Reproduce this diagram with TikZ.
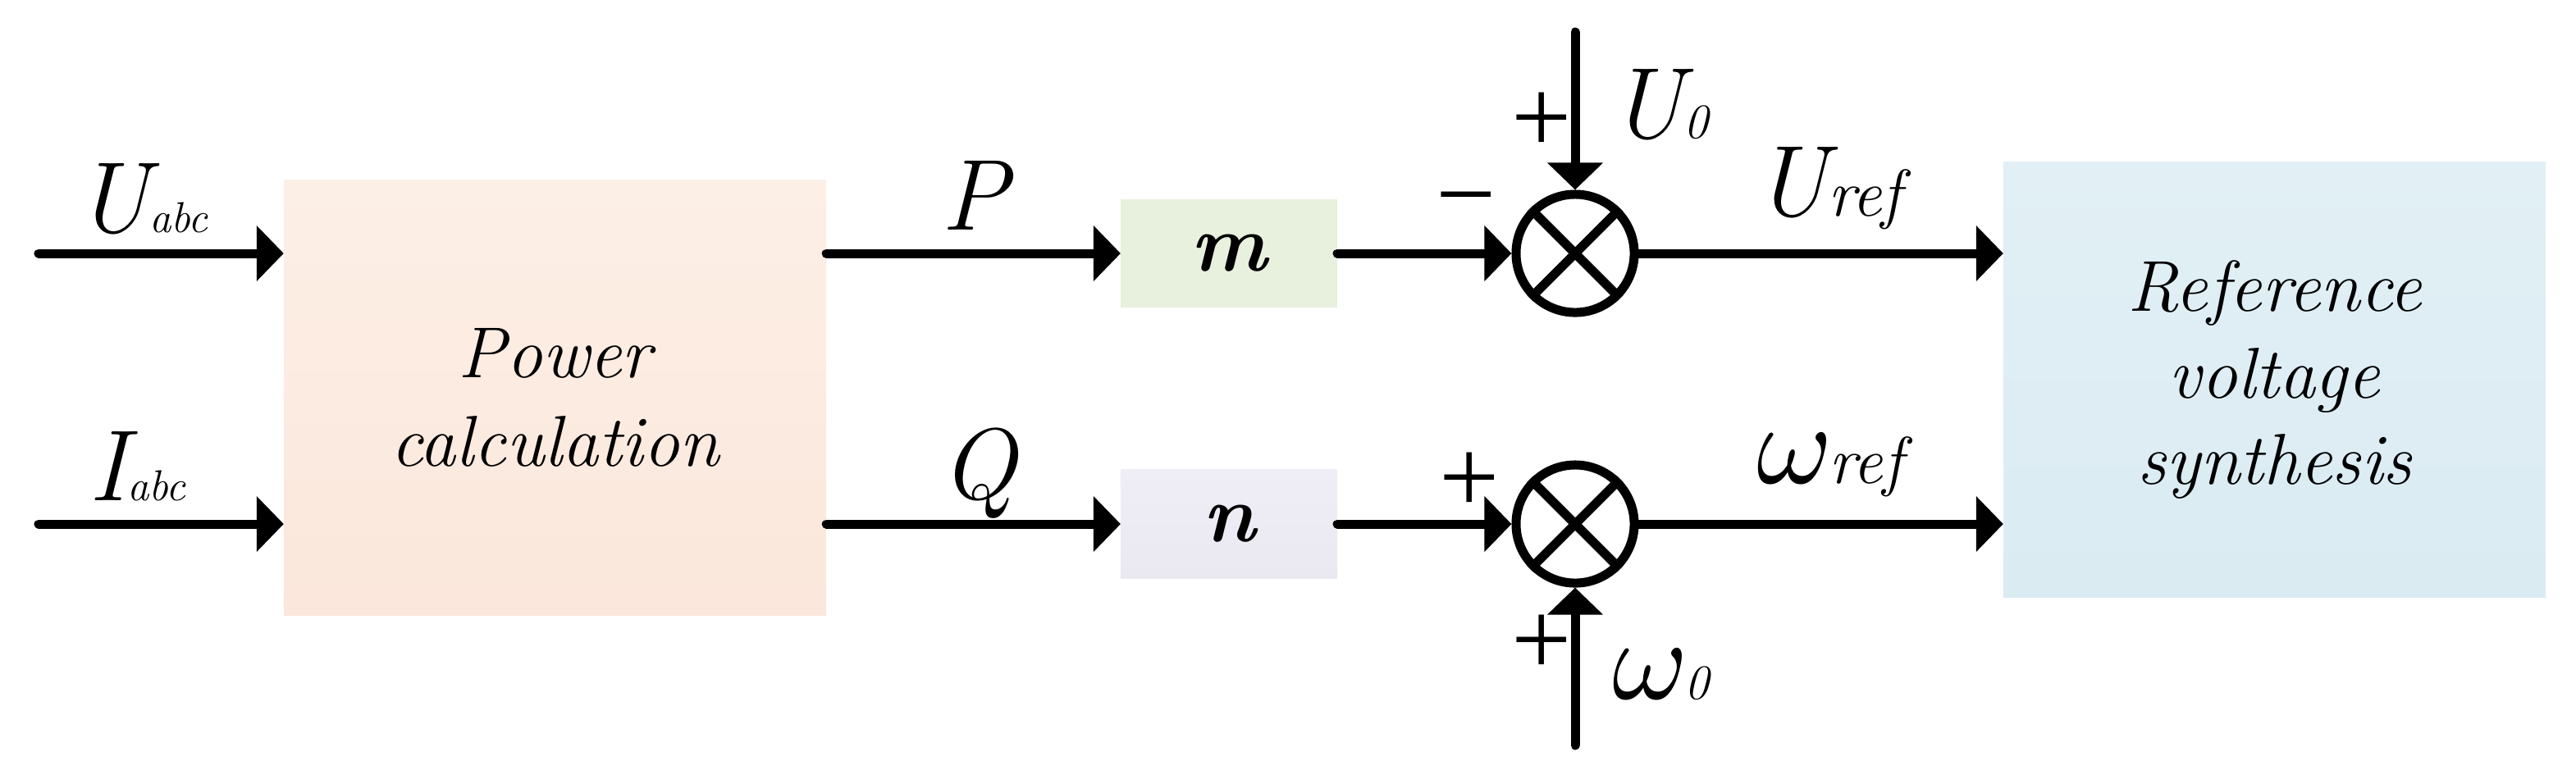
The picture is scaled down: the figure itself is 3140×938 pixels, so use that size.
\documentclass[tikz,border=0pt]{standalone}
\usepackage{fontspec}
\newfontfamily\grkfont{Liberation Serif}
\newfontfamily\lmmath{Latin Modern Math}
\usetikzlibrary{arrows.meta}
\definecolor{pcTop}{HTML}{FCEFE6}
\definecolor{pcBot}{HTML}{FBE7DB}
\definecolor{rbTop}{HTML}{E2F0F5}
\definecolor{rbBot}{HTML}{DAEBF2}
\definecolor{mFill}{HTML}{E8F0DE}
\definecolor{nTop}{HTML}{EFEDF5}
\definecolor{nBot}{HTML}{EAE8F0}
\tikzset{
  arr/.style={line width=0.11cm, line cap=round, -{Triangle[length=0.33cm,width=0.66cm]}},
  blk/.style={inner sep=0, outer sep=0, draw=none, align=center},
  sumnode/.style={circle, draw, line width=0.11cm, minimum size=1.44cm, inner sep=0},
  crossline/.style={line width=0.11cm},
  boxtext/.style={font=\fontsize{25}{30}\selectfont\itshape},
  gaintext/.style={font=\fontsize{28}{30}\selectfont\bfseries\itshape},
  sign/.style={inner sep=0, font=\grkfont\fontsize{37}{40}\selectfont},
  lab/.style={inner sep=0, anchor=base west},
  labc/.style={inner sep=0, anchor=base},
}
\newcommand{\mylab}[3]{{\fontsize{35}{40}\selectfont\itshape #1}{\fontsize{#3}{#3}\selectfont\itshape #2}}
\newcommand{\omg}{{\lmmath\fontsize{40}{40}\selectfont 𝜔}}
\begin{document}
\begin{tikzpicture}[x=0.01cm, y=-0.01cm]
\useasboundingbox (0,0) rectangle (3140,938);
% blocks
\node[blk, boxtext, top color=pcTop, bottom color=pcBot, minimum width=6.61cm, minimum height=5.30cm] (pc) at (676.5,485) {Power\\[0.5pt]calculation};
\node[blk, gaintext, fill=mFill, minimum width=2.64cm, minimum height=1.31cm] (m) at (1498,309) {m};
\node[blk, gaintext, top color=nTop, bottom color=nBot, minimum width=2.64cm, minimum height=1.33cm] (n) at (1498,639) {n};
\node[blk, boxtext, top color=rbTop, bottom color=rbBot, minimum width=6.61cm, minimum height=5.30cm] (rb) at (2772.5,463) {Reference\\voltage\\synthesis};
% summing junctions
\node[sumnode] (s1) at (1920,309) {};
\node[sumnode] (s2) at (1920,639) {};
\draw[crossline] (s1.45) -- (s1.225) (s1.135) -- (s1.315);
\draw[crossline] (s2.45) -- (s2.225) (s2.135) -- (s2.315);
% free ends
\coordinate (uin) at (47,309);
\coordinate (iin) at (47,639);
\coordinate (u0in) at (1920,39);
\coordinate (w0in) at (1920,909);
% connectors
\draw[arr] (uin) -- (uin -| pc.west);
\draw[arr] (iin) -- (iin -| pc.west);
\draw[arr] (pc.east |- m) -- (m.west);
\draw[arr] (pc.east |- n) -- (n.west);
\draw[arr] (m.east) -- (s1.west);
\draw[arr] (n.east) -- (s2.west);
\draw[arr] (u0in) -- (s1.north);
\draw[arr] (w0in) -- (s2.south);
\draw[arr] (s1.east) -- (s1 -| rb.west);
\draw[arr] (s2.east) -- (s2 -| rb.west);
% labels
\node[lab] (luabc) at (92,283) {\mylab{U}{abc}{15}};
\node[lab] (liabc) at (108,610) {\mylab{I}{abc}{15}};
\node[labc] (lp) at (1188,280) {\fontsize{35}{40}\selectfont\itshape P};
\node[labc] (lq) at (1193,608) {\fontsize{35}{40}\selectfont\itshape Q};
\node[lab] (lu0) at (1962,168) {\mylab{U}{0}{17}};
\node[lab] (luref) at (2138,263) {\mylab{U}{ref}{23}};
\node[lab] (lwref) at (2141,589) {\mylab{\omg}{ref}{23}};
\node[lab] (lw0) at (1965,852) {\mylab{\omg}{0}{17}};
\node[sign] (p1) at (1879,150) {+};
\node[sign] (m1) at (1787,257) {−};
\node[sign] (p2) at (1791,589) {+};
\node[sign] (p3) at (1879,787) {+};
\end{tikzpicture}
\end{document}
